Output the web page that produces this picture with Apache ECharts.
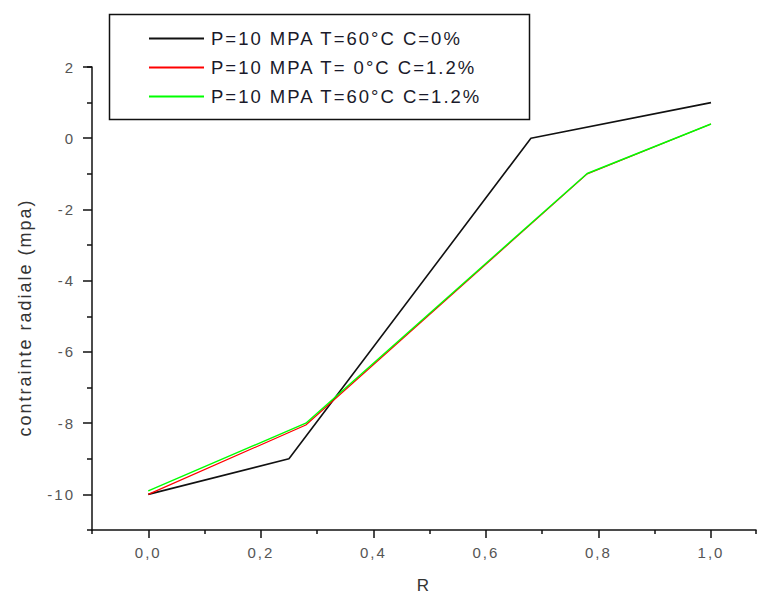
<!DOCTYPE html>
<html><head><meta charset="utf-8">
<script src="https://cdn.jsdelivr.net/npm/echarts@6/dist/echarts.min.js"></script>
<style>
html,body{margin:0;padding:0;background:#fff}
#c{width:757px;height:597px}
#c svg text{letter-spacing:2px}
</style>
</head><body><div id="c"></div>
<script>
const seriesNames = ['P=10 MPA T=60°C C=0%', 'P=10 MPA T= 0°C C=1.2%', 'P=10 MPA T=60°C C=1.2%'];
const blackR = [0, 0.25, 0.68, 1.0];
const blackV = [-10, -9.0, 0.0, 1.0];
const redR = [0, 0.28, 0.78, 1.0];
const redV = [-10, -8.05, -1.0, 0.4];
const greenR = [0, 0.28, 0.78, 1.0];
const greenV = [-9.9, -8.0, -0.99, 0.4];
const xMajor = [0, 0.2, 0.4, 0.6, 0.8, 1.0];
const xTicks = ['0,0', '0,2', '0,4', '0,6', '0,8', '1,0'];
const yMajor = [2, 0, -2, -4, -6, -8, -10];

const pair = (xs, ys) => xs.map((x, i) => [x, ys[i]]);
const font = 'Liberation Sans, Arial, sans-serif';
const chart = echarts.init(document.getElementById('c'), null, {renderer: 'svg'});
const xBase = {type: 'value', min: -0.1, max: 1.08, splitLine: {show: false}};
const yBase = {type: 'value', min: -11, max: 2, splitLine: {show: false}};
const hiddenLine = {show: true, onZero: false, lineStyle: {color: 'rgba(0,0,0,0)', width: 0}};
chart.setOption({
  animation: false,
  backgroundColor: '#fff',
  grid: {left: 92, right: 1, top: 67, bottom: 67, outerBoundsMode: 'none', containLabel: false},
  graphic: [{
    type: 'rect', left: 107, top: 12, z: 10,
    shape: {width: 420, height: 105},
    style: {fill: 'none', stroke: '#111', lineWidth: 1.5}
  }],
  legend: {
    orient: 'vertical', left: 107, top: 12,
    padding: [17, 20, 14, 42],
    borderWidth: 0,
    icon: 'rect',
    itemWidth: 55, itemHeight: 2, itemGap: 10,
    textStyle: {fontFamily: font, fontSize: 18.5, color: '#1a1a2a', padding: [0, 0, 0, 2]},
    data: seriesNames
  },
  xAxis: [
    Object.assign({}, xBase, {
      interval: 0.1,
      axisLine: {onZero: false, lineStyle: {color: '#111', width: 1.5}},
      axisTick: {show: true, length: 8, customValues: xMajor, lineStyle: {color: '#111', width: 1.5}},
      axisLabel: {margin: 15, fontFamily: font, fontSize: 15, color: '#555',
        customValues: xMajor,
        formatter: v => xTicks[xMajor.findIndex(m => Math.abs(m - v) < 1e-6)] || ''},
      name: 'R', nameLocation: 'middle', nameGap: 47,
      nameTextStyle: {fontFamily: font, fontSize: 17, color: '#333'}
    }),
    Object.assign({}, xBase, {
      interval: 0.2, position: 'bottom',
      axisLine: hiddenLine,
      axisTick: {show: true, length: 4, lineStyle: {color: '#111', width: 1.5}},
      axisLabel: {show: false}
    })
  ],
  yAxis: [
    Object.assign({}, yBase, {
      interval: 1,
      axisLine: {onZero: false, lineStyle: {color: '#111', width: 1.5}},
      axisTick: {show: true, length: 9, customValues: yMajor, lineStyle: {color: '#111', width: 1.5}},
      axisLabel: {margin: 17, fontFamily: font, fontSize: 15, color: '#555',
        customValues: yMajor, formatter: v => String(v)},
      name: 'contrainte radiale (mpa)', nameLocation: 'middle', nameGap: 58,
      nameTextStyle: {fontFamily: font, fontSize: 18, color: '#333', padding: [0, 38, 0, 0]}
    }),
    Object.assign({}, yBase, {
      interval: 2, position: 'left',
      axisLine: hiddenLine,
      axisTick: {show: true, length: 5, lineStyle: {color: '#111', width: 1.5}},
      axisLabel: {show: false}
    })
  ],
  series: [
    {name: seriesNames[0], type: 'line', data: pair(blackR, blackV), symbol: 'none',
     lineStyle: {color: '#111', width: 1.6}, itemStyle: {color: '#111'}},
    {name: seriesNames[1], type: 'line', data: pair(redR, redV), symbol: 'none',
     lineStyle: {color: '#ff0000', width: 1.2}, itemStyle: {color: '#ff0000'}},
    {name: seriesNames[2], type: 'line', data: pair(greenR, greenV), symbol: 'none',
     lineStyle: {color: '#00ff00', width: 1.4}, itemStyle: {color: '#00ff00'}}
  ]
});
</script></body></html>
